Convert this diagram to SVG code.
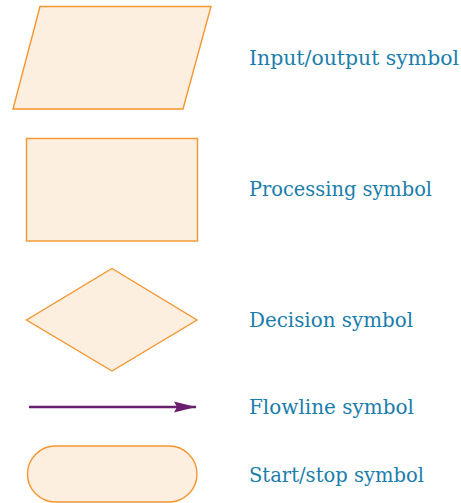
<svg xmlns="http://www.w3.org/2000/svg" width="461" height="503" viewBox="0 0 461 503">
<style>
.shape{fill:#fdefe0;stroke:#f4962f;stroke-width:1.4;stroke-linejoin:miter}
.label{font-family:"DejaVu Serif","Liberation Serif",serif;font-size:19.5px;fill:#1a7dab}
.flow{stroke:#6a1f6e;stroke-width:2.6;fill:none}
</style>
<defs>
<marker id="arrow" markerUnits="userSpaceOnUse" markerWidth="24" markerHeight="14" refX="22" refY="6" orient="auto" viewBox="0 0 24 12">
<path d="M0,0.5 L22,6 L0,11.5 L3,6 Z" fill="#6a1f6e"/>
</marker>
</defs>
<rect width="461" height="503" fill="#ffffff"/>
<g id="node-io">
<polygon class="shape" points="40,6.5 211,6.5 183,109 13,109"/>
<text class="label" x="249" y="65" textLength="210" lengthAdjust="spacingAndGlyphs">Input/output symbol</text>
</g>
<g id="node-process">
<rect class="shape" x="26.5" y="138.5" width="171" height="102.5"/>
<text class="label" x="249" y="195.5" textLength="183" lengthAdjust="spacingAndGlyphs">Processing symbol</text>
</g>
<g id="node-decision">
<polygon class="shape" points="112,268.5 197,320 112,371 26.5,320"/>
<text class="label" x="249" y="326.5" textLength="164" lengthAdjust="spacingAndGlyphs">Decision symbol</text>
</g>
<g id="connectors">
<line class="flow" x1="29" y1="407" x2="196" y2="407" marker-end="url(#arrow)"/>
</g>
<g id="node-flowline-label">
<text class="label" x="249" y="414" textLength="165" lengthAdjust="spacingAndGlyphs">Flowline symbol</text>
</g>
<g id="node-terminal">
<rect class="shape" x="27.5" y="446" width="169.5" height="56" rx="28" ry="28"/>
<text class="label" x="249" y="481.5" textLength="175" lengthAdjust="spacingAndGlyphs">Start/stop symbol</text>
</g>
</svg>
